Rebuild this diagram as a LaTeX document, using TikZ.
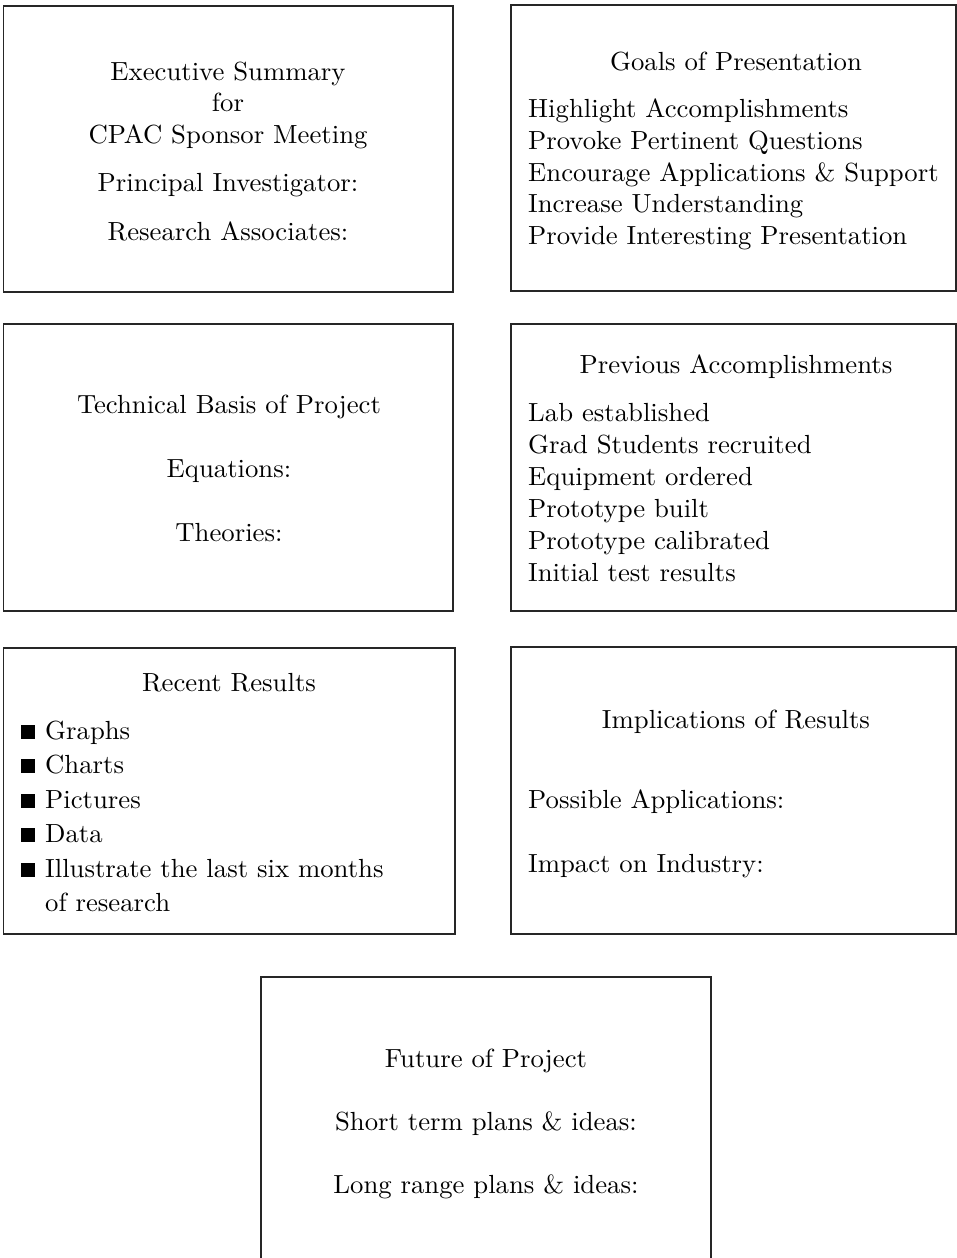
\documentclass[tikz,border=0pt]{standalone}
\usepackage{fontspec}
\setmainfont{lmroman10-regular.otf}[FakeStretch=1.02]
\begin{document}
\begin{tikzpicture}[x=1pt,y=-1pt,
  panel/.style={draw=black!85, line width=1.3pt, rectangle, inner sep=0pt},
  ctext/.style={anchor=base, inner sep=0pt, font=\fontsize{26.2}{32}\selectfont},
  ltext/.style={anchor=base west, inner sep=0pt, font=\fontsize{26.2}{32}\selectfont},
  bul/.style={anchor=south west, fill=black, inner sep=0pt, minimum size=14pt}]
\useasboundingbox (0,0) rectangle (956,1258);
% panels
\node[panel, minimum width=449.5pt, minimum height=286pt] (p1) at (228.25,149) {};
\node[panel, minimum width=445pt, minimum height=286pt] (p2) at (733.5,148) {};
\node[panel, minimum width=449.5pt, minimum height=287pt] (p3) at (228.25,467.5) {};
\node[panel, minimum width=445pt, minimum height=287pt] (p4) at (733.5,467.5) {};
\node[panel, minimum width=451.5pt, minimum height=286pt] (p5) at (229.25,791) {};
\node[panel, minimum width=445pt, minimum height=287pt] (p6) at (733.5,790.5) {};
\node[panel, minimum width=450pt, minimum height=300pt] (p7) at (486,1127) {};
% panel 1
\node[ctext] (t1a) at (228,80) {Executive Summary};
\node[ctext] (t1b) at (228,111) {for};
\node[ctext] (t1c) at (228,143) {CPAC Sponsor Meeting};
\node[ctext] (t1d) at (228,191) {Principal Investigator:};
\node[ctext] (t1e) at (228,240) {Research Associates:};
% panel 2
\node[ctext] (t2a) at (736,70) {Goals of Presentation};
\node[ltext] (t2b) at (528,117) {Highlight Accomplishments};
\node[ltext] (t2c) at (528,149) {Provoke Pertinent Questions};
\node[ltext] (t2d) at (528,181) {Encourage Applications \& Support};
\node[ltext] (t2e) at (528,212) {Increase Understanding};
\node[ltext] (t2f) at (528,244) {Provide Interesting Presentation};
% panel 3
\node[ctext] (t3a) at (229,413) {Technical Basis of Project};
\node[ctext] (t3b) at (229,477) {Equations:};
\node[ctext] (t3c) at (229,541) {Theories:};
% panel 4
\node[ctext] (t4a) at (736,373) {Previous Accomplishments};
\node[ltext] (t4b) at (528,421) {Lab established};
\node[ltext] (t4c) at (528,453) {Grad Students recruited};
\node[ltext] (t4d) at (528,485) {Equipment ordered};
\node[ltext] (t4e) at (528,517) {Prototype built};
\node[ltext] (t4f) at (528,549) {Prototype calibrated};
\node[ltext] (t4g) at (528,581) {Initial test results};
% panel 5
\node[ctext] (t5a) at (229,691) {Recent Results};
\node[bul] (b5b) at (21,739) {};
\node[ltext] (t5b) at (45,739) {Graphs};
\node[bul] (b5c) at (21,773) {};
\node[ltext] (t5c) at (45,773) {Charts};
\node[bul] (b5d) at (21,808) {};
\node[ltext] (t5d) at (45,808) {Pictures};
\node[bul] (b5e) at (21,842) {};
\node[ltext] (t5e) at (45,842) {Data};
\node[bul] (b5f) at (21,877) {};
\node[ltext] (t5f) at (45,877) {Illustrate the last six months};
\node[ltext] (t5g) at (45,911) {of research};
% panel 6
\node[ctext] (t6a) at (736,728) {Implications of Results};
\node[ltext] (t6b) at (528,808) {Possible Applications:};
\node[ltext] (t6c) at (528,872) {Impact on Industry:};
% panel 7
\node[ctext] (t7a) at (486,1067) {Future of Project};
\node[ctext] (t7b) at (486,1130) {Short term plans \& ideas:};
\node[ctext] (t7c) at (486,1193) {Long range plans \& ideas:};
\end{tikzpicture}
\end{document}
